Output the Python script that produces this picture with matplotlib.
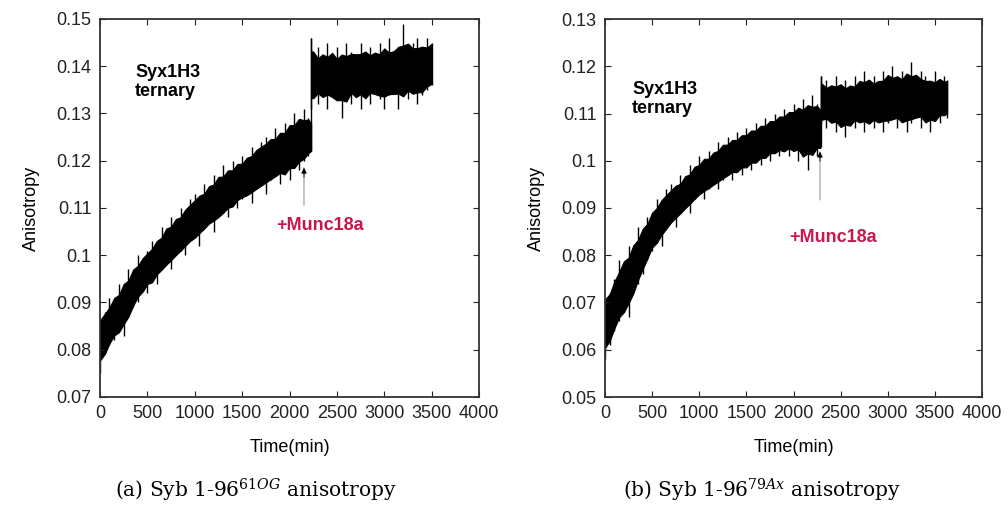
import matplotlib
matplotlib.use("Agg")
import matplotlib.pyplot as plt

# ---------------- data ----------------
# Panel (a): Syb 1-96 61OG  (spike tops / spike bottoms of the noisy trace)
time_a = list(range(0, 2201, 50)) + [2225, 2230, 2250] + list(range(2300, 3501, 50))
upper_a = [0.086, 0.088, 0.091, 0.090, 0.094, 0.093, 0.097, 0.096, 0.100, 0.099,
           0.101, 0.103, 0.102, 0.106, 0.105, 0.108, 0.107, 0.110, 0.109, 0.112,
           0.113, 0.112, 0.115, 0.114, 0.117, 0.116, 0.119, 0.117, 0.120, 0.119,
           0.121, 0.120, 0.123, 0.122, 0.124, 0.125, 0.124, 0.127, 0.125, 0.128,
           0.127, 0.130, 0.128, 0.131, 0.129, 0.128,
           0.146, 0.142, 0.144, 0.141, 0.145, 0.142, 0.144, 0.141, 0.145, 0.143,
           0.142, 0.145, 0.143, 0.144, 0.142, 0.145, 0.143, 0.146, 0.142, 0.144,
           0.149, 0.143, 0.145, 0.146, 0.143, 0.146, 0.145]
lower_a = [0.075, 0.079, 0.081, 0.082, 0.084, 0.083, 0.087, 0.089, 0.090, 0.093,
           0.092, 0.095, 0.094, 0.097, 0.098, 0.097, 0.100, 0.101, 0.100, 0.103,
           0.104, 0.102, 0.106, 0.107, 0.105, 0.108, 0.109, 0.108, 0.111, 0.110,
           0.112, 0.113, 0.111, 0.114, 0.115, 0.113, 0.116, 0.117, 0.115, 0.118,
           0.116, 0.119, 0.118, 0.120, 0.121, 0.122,
           0.131, 0.134, 0.132, 0.135, 0.131, 0.134, 0.133, 0.129, 0.134, 0.132,
           0.135, 0.131, 0.134, 0.132, 0.135, 0.133, 0.131, 0.134, 0.135, 0.131,
           0.134, 0.133, 0.135, 0.132, 0.134, 0.135, 0.136]
jump_index_a = 46          # first sample after Munc18a addition

# Panel (b): Syb 1-96 79Ax
time_b = list(range(0, 2251, 50)) + [2285, 2290] + list(range(2300, 3601, 50)) + [3630]
upper_b = [0.071, 0.072, 0.075, 0.079, 0.078, 0.082, 0.081, 0.086, 0.085, 0.088,
           0.089, 0.092, 0.091, 0.094, 0.095, 0.094, 0.097, 0.096, 0.099, 0.098,
           0.101, 0.100, 0.102, 0.101, 0.104, 0.103, 0.105, 0.104, 0.106, 0.105,
           0.107, 0.106, 0.108, 0.107, 0.109, 0.108, 0.110, 0.109, 0.111, 0.110,
           0.112, 0.111, 0.113, 0.111, 0.114, 0.112, 0.111,
           0.118, 0.116, 0.117, 0.115, 0.118, 0.116, 0.117, 0.115, 0.118, 0.116,
           0.119, 0.117, 0.118, 0.116, 0.119, 0.118, 0.120, 0.117, 0.119, 0.118,
           0.121, 0.117, 0.119, 0.118, 0.116, 0.119, 0.117, 0.118, 0.117]
lower_b = [0.058, 0.061, 0.064, 0.066, 0.068, 0.067, 0.072, 0.074, 0.076, 0.079,
           0.081, 0.083, 0.082, 0.086, 0.087, 0.086, 0.089, 0.090, 0.089, 0.092,
           0.093, 0.092, 0.094, 0.095, 0.094, 0.096, 0.097, 0.096, 0.098, 0.097,
           0.099, 0.098, 0.100, 0.099, 0.101, 0.100, 0.102, 0.101, 0.102, 0.101,
           0.103, 0.100, 0.102, 0.098, 0.102, 0.101, 0.103,
           0.108, 0.109, 0.107, 0.109, 0.106, 0.108, 0.105, 0.108, 0.107, 0.109,
           0.106, 0.108, 0.107, 0.109, 0.106, 0.108, 0.109, 0.107, 0.109, 0.106,
           0.108, 0.110, 0.107, 0.109, 0.106, 0.109, 0.108, 0.110, 0.109]
jump_index_b = 47

x_ticks = [0, 500, 1000, 1500, 2000, 2500, 3000, 3500, 4000]
y_ticks_a = [0.07, 0.08, 0.09, 0.10, 0.11, 0.12, 0.13, 0.14, 0.15]
y_ticks_b = [0.05, 0.06, 0.07, 0.08, 0.09, 0.10, 0.11, 0.12, 0.13]
y_labels_a = ["0.07", "0.08", "0.09", "0.1", "0.11", "0.12", "0.13", "0.14", "0.15"]
y_labels_b = ["0.05", "0.06", "0.07", "0.08", "0.09", "0.1", "0.11", "0.12", "0.13"]

captions = [r"(a) Syb 1-96$^{61\mathit{OG}}$ anisotropy",
            r"(b) Syb 1-96$^{79\mathit{Ax}}$ anisotropy"]
arrow_a = (2153, 0.1106, 0.1185)   # x, tail y, head y
arrow_b = (2281, 0.0917, 0.1019)
munc_a = (2322, 0.1064)
munc_b = (2419, 0.0837)
syx_a = (369, 0.1366)
syx_b = (286, 0.1131)


def core_band(up, lo, keep=0.85):
    """Solid core of the trace: local mean of neighbouring spike extremes,
    slightly narrowed so that the individual spikes stand out."""
    cu, cl = [], []
    n = len(up)
    for i in range(n):
        j0, j1 = max(0, i - 1), min(n, i + 2)
        mu = sum(up[j0:j1]) / (j1 - j0)
        ml = sum(lo[j0:j1]) / (j1 - j0)
        mid, half = (mu + ml) / 2, (mu - ml) / 2 * keep
        cu.append(mid + half)
        cl.append(mid - half)
    return cu, cl


# ---------------- figure ----------------
plt.rcParams['font.family'] = ['Liberation Sans', 'DejaVu Sans']
plt.rcParams['mathtext.fontset'] = 'dejavuserif'
fig = plt.figure(figsize=(10.08, 5.07), dpi=100)

ax_a = fig.add_axes([100 / 1008, 1 - 397 / 507, 379 / 1008, 378 / 507])
ax_b = fig.add_axes([605 / 1008, 1 - 397 / 507, 377 / 1008, 378 / 507])

panels = [
    (ax_a, time_a, upper_a, lower_a, jump_index_a, y_ticks_a, y_labels_a, arrow_a, munc_a, syx_a),
    (ax_b, time_b, upper_b, lower_b, jump_index_b, y_ticks_b, y_labels_b, arrow_b, munc_b, syx_b),
]
munc_color = '#c8174a'
for ax, t, up, lo, jmp, yt, yl, arr, munc, syx in panels:
    for s0, s1 in [(0, jmp), (jmp, len(t))]:
        ts, us, ls = t[s0:s1], up[s0:s1], lo[s0:s1]
        cu, cl = core_band(us, ls)
        ax.fill_between(ts, cl, cu, color='black', linewidth=0.8, edgecolor='black')
        ax.vlines(ts, ls, us, color='black', linewidth=1.0)
    # step at the Munc18a addition
    ax.vlines([t[jmp]], lo[jmp - 1], up[jmp], color='black', linewidth=1.0)
    ax.set_xlim(0, 4000)
    ax.set_ylim(yt[0], yt[-1])
    ax.set_xticks(x_ticks)
    ax.set_xticklabels([str(v) for v in x_ticks])
    ax.set_yticks(yt)
    ax.set_yticklabels(yl)
    ax.tick_params(direction='in', length=4, width=0.8, top=True, right=True,
                   labelsize=13, pad=6, colors='#222222')
    for s in ax.spines.values():
        s.set_linewidth(1.3)
        s.set_color('#333333')
    ax.set_xlabel('Time(min)', fontsize=13, labelpad=12)
    ax.set_ylabel('Anisotropy', fontsize=13, labelpad=12)
    ax.text(syx[0], syx[1], 'Syx1H3\nternary', fontsize=13, fontweight='bold',
            ha='left', va='center', linespacing=1.15)
    ax.annotate('', xy=(arr[0], arr[2]), xytext=(arr[0], arr[1]),
                arrowprops=dict(arrowstyle='-', color='#999999', lw=0.8,
                                shrinkA=0, shrinkB=0))
    ax.annotate('', xy=(arr[0], arr[2]), xytext=(arr[0], arr[2] - 0.002),
                arrowprops=dict(arrowstyle='-|>', color='black', lw=0.6,
                                mutation_scale=8, shrinkA=0, shrinkB=0))
    ax.text(munc[0], munc[1], '+Munc18a', fontsize=13, fontweight='bold',
            color=munc_color, ha='center', va='center')

fig.text(256 / 1008, 1 - 490 / 507, captions[0], fontsize=14.5,
         family='DejaVu Serif', ha='center', va='center')
fig.text(762 / 1008, 1 - 490 / 507, captions[1], fontsize=14.5,
         family='DejaVu Serif', ha='center', va='center')

fig.savefig('out.png', dpi=100)
